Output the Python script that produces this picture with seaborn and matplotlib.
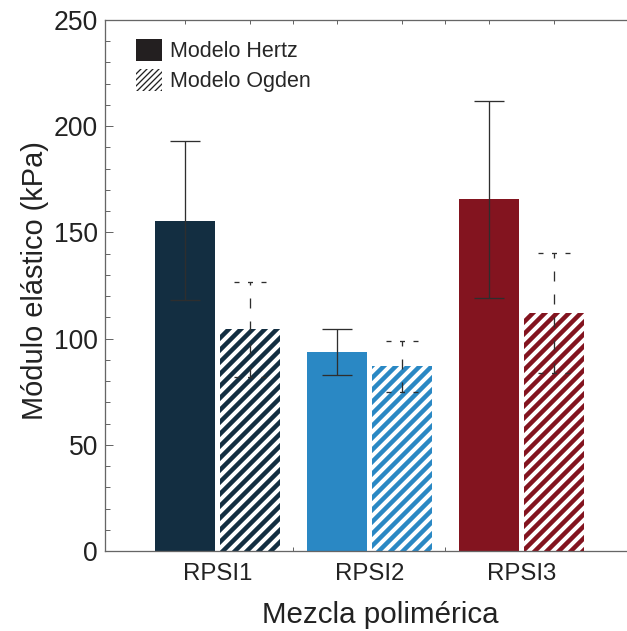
import pandas as pd
import numpy as np
import seaborn as sns
import matplotlib.pyplot as plt
from matplotlib.patches import Patch

# values (kPa)
categories = ['RPSI1', 'RPSI2', 'RPSI3']
models = ['Modelo Hertz', 'Modelo Ogden']
hertz = [155.5, 93.7, 165.5]
hertz_sd = [37.4, 10.8, 46.4]
ogden = [104.3, 86.9, 112.0]
ogden_sd = [22.4, 12.0, 28.2]
colors = ['#132e41', '#2a88c4', '#83141f']

sns.set_style('ticks')
plt.rcParams['font.family'] = ['Liberation Sans', 'DejaVu Sans']
plt.rcParams['hatch.linewidth'] = 4.0
plt.rcParams['lines.scale_dashes'] = False

df = pd.DataFrame({
    'Mezcla': categories * 2,
    'Modelo': [models[0]] * 3 + [models[1]] * 3,
    'valor': hertz + ogden,
})

fig = plt.figure(figsize=(627 / 72, 631 / 72), dpi=72)
ax = fig.add_axes([105 / 627, 80 / 631, 522 / 627, 531 / 631])

sns.barplot(data=df, x='Mezcla', y='valor', hue='Modelo', order=categories,
            hue_order=models, width=0.855, gap=0.076, errorbar=None,
            legend=False, ax=ax)

# recolour: colour by mixture, hatch for Ogden
hertz_bars, ogden_bars = ax.containers[0], ax.containers[1]
for bar, c in zip(hertz_bars, colors):
    bar.set_facecolor(c)
    bar.set_edgecolor(c)
    bar.set_linewidth(0)
for bar, c in zip(ogden_bars, colors):
    bar.set_facecolor(c)
    bar.set_edgecolor('white')
    bar.set_hatch('//')
    bar.set_linewidth(0)

ecol = '#2e2e2e'
xh = np.array([b.get_x() + b.get_width() / 2 for b in hertz_bars])
xo = np.array([b.get_x() + b.get_width() / 2 for b in ogden_bars])

ax.errorbar(xh, hertz, yerr=hertz_sd, fmt='none', ecolor=ecol,
            elinewidth=1.3, capsize=15, capthick=1.3, zorder=4)
eb = ax.errorbar(xo, ogden, yerr=ogden_sd, fmt='none', ecolor=ecol,
                 elinewidth=1.3, capsize=0, zorder=4)
eb.lines[2][0].set_linestyle((0, (10, 13)))
# dashed caps for the Ogden bars
capw = 16 / 152
og = np.array(ogden)
osd = np.array(ogden_sd)
for yy in [og + osd, og - osd]:
    ax.hlines(yy, xo - capw, xo + capw, colors=ecol, lw=1.3,
              linestyles=[(0, (5, 8.5))], zorder=4)

ax.set_ylim(0, 250)
ax.set_xlim(-0.74, 2.695)
ax.set_yticks(np.arange(0, 251, 50))
ax.set_yticks(np.arange(0, 251, 10), minor=True)
ax.set_xticks(range(3))
ax.set_xticklabels(categories)
ax.set_xticks([0.5, 1.5], minor=True)

ax.tick_params(axis='y', which='major', direction='in', length=8, width=1,
               color='#666666', labelsize=26.5, pad=7, labelcolor='#222222')
ax.tick_params(axis='y', which='minor', direction='in', length=5, width=1,
               color='#666666')
ax.tick_params(axis='x', which='major', length=0, labelsize=24, pad=12,
               labelcolor='#222222')
ax.tick_params(axis='x', which='minor', direction='in', length=4, width=1,
               color='#666666')

for s in ['left', 'bottom', 'top']:
    ax.spines[s].set_color('#666666')
    ax.spines[s].set_linewidth(1.3)
ax.spines['right'].set_visible(False)

top = ax.secondary_xaxis('top')
top.set_xticks(list(xh) + list(xo) + [0.5, 1.5])
top.tick_params(direction='in', length=4, width=1, color='#666666',
                labeltop=False)
top.spines['top'].set_visible(False)

ax.set_xlabel('Mezcla polimérica', fontsize=29.5, color='#222222',
              labelpad=16, x=0.527)
ax.set_ylabel('Módulo elástico (kPa)', fontsize=29, color='#222222',
              labelpad=5, y=0.51)

h1 = Patch(facecolor='#231f20', edgecolor='#231f20', linewidth=0)
h2 = Patch(facecolor='white', edgecolor='#222222', hatch='////', linewidth=0)
leg = ax.legend([h1, h2], models, loc='upper left', bbox_to_anchor=(0.06, 0.965),
                frameon=False, fontsize=21.5, handlelength=1.2, handleheight=1.2,
                labelspacing=0.33, handletextpad=0.38, borderpad=0, borderaxespad=0)
for p in leg.get_patches():
    if hasattr(p, 'set_hatch_linewidth'):
        p.set_hatch_linewidth(1.3)

fig.savefig('out.png', dpi=72)
